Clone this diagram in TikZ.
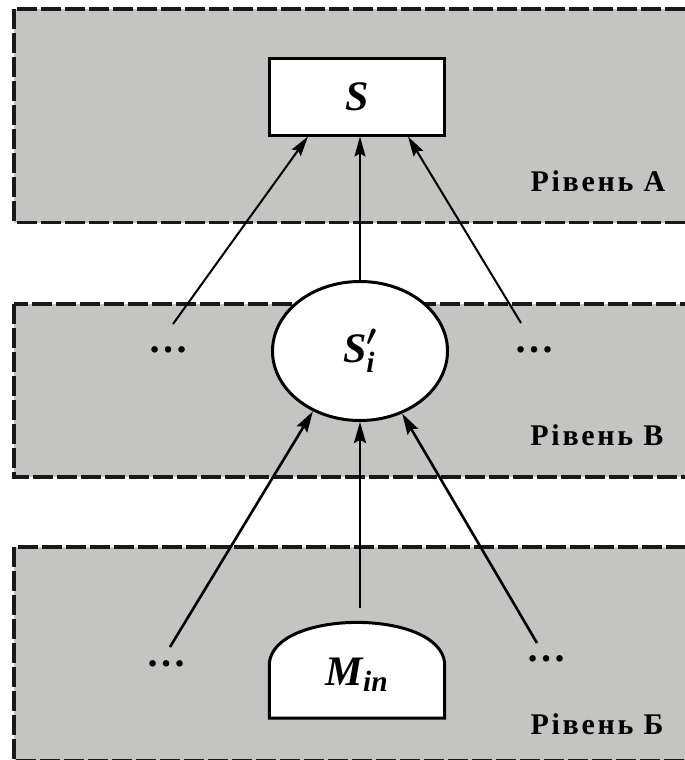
\RequirePackage{fix-cm}
\documentclass[tikz,border=0pt]{standalone}
\usepackage{amsmath}
\usepackage{fontspec}
\setmainfont{Liberation Serif}
\newfontfamily\lvlfont{Liberation Serif}[LetterSpace=9]
\usetikzlibrary{positioning}
\usetikzlibrary{arrows.meta}
\usetikzlibrary{shapes.geometric}

\definecolor{bandgray}{RGB}{196,196,194}
\definecolor{edge}{RGB}{26,24,24}

\newcommand{\bfi}{\bfseries\itshape}

\begin{document}
\begin{tikzpicture}[x=1pt,y=-1pt,
  band/.style={fill=bandgray, draw=edge, line width=3.5pt, dash pattern=on 20pt off 4pt},
  arr/.style={line width=2.6pt, -{Stealth[length=21pt,width=12pt,inset=3pt]}},
  thinarr/.style={line width=2pt, -{Stealth[length=20pt,width=11pt,inset=3pt]}},
  lvl/.style={font=\lvlfont\bfseries\fontsize{30}{34}\selectfont},
  big/.style={font=\fontsize{42}{48}\selectfont},
  dots/.style={font=\bfseries\fontsize{40}{46}\selectfont, inner sep=0pt}]

\useasboundingbox (0,0) rectangle (685,760);

% the three levels
\draw[band] (14,9) rectangle (700,222.5);
\draw[band] (14,304) rectangle (700,477);
\draw[band] (14,547) rectangle (700,761);

\node[lvl] (lvlA) at (598,181) {Рівень А};
\node[lvl] (lvlB) at (597,435) {Рівень В};
\node[lvl] (lvlC) at (597,724) {Рівень Б};

% S on top, S_i' in the middle
\node (s) at (357,97) [draw, line width=3pt, fill=white, minimum width=175pt, minimum height=76pt, big] {\bfi S};
\node (si) at (360,351) [draw, ellipse, line width=3pt, fill=white, minimum width=175pt, minimum height=139pt, inner sep=0pt, big] {$\text{\bfi S}_{\text{\bfi i}}^{\boldsymbol{\prime}}$};

% M_in: flat bottom, rounded top
\node (min) at (357,670.5) [minimum width=175pt, minimum height=95pt] {};
\draw[line width=3pt, fill=white] (min.south west) -- ([yshift=55pt]min.south west)
  .. controls ([shift={(5pt,14pt)}]min.north west) and ([shift={(-5pt,14pt)}]min.north east)
  .. ([yshift=55pt]min.south east) -- (min.south east) -- cycle;
\node (mintxt) at ([yshift=-4pt]min.center) [big] {$\text{\bfi M}_{\text{\bfi in}}$};

\node (dbl) at (168,350) [dots] {…};
\node (dbr) at (534,350) [dots] {…};
\node (dcl) at (166,664) [dots] {…};
\node (dcr) at (546,659) [dots] {…};

% level B -> level A
\draw[thinarr] ([shift={(5pt,26pt)}]dbl.center) -- ([xshift=-49pt]s.south);
\draw[thinarr] (si.north) -- (si.north |- s.south);
\draw[thinarr] ([shift={(-13pt,27pt)}]dbr.center) -- ([xshift=51pt]s.south);

% level B' -> level B
\coordinate (mtop) at (si.south |- min.north);
\draw[arr] ([shift={(4pt,17pt)}]dcl.center) -- (si.232);
\draw[arr] ([yshift=15pt]mtop) -- (si.south);
\draw[arr] ([shift={(-9pt,16pt)}]dcr.center) -- (si.304);

\end{tikzpicture}
\end{document}
